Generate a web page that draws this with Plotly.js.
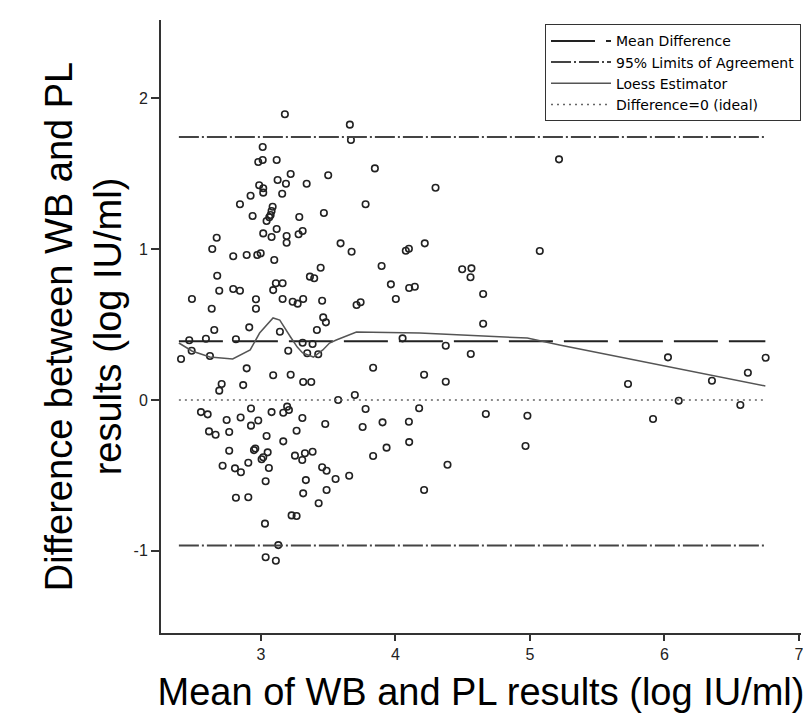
<!DOCTYPE html>
<html>
<head>
<meta charset="utf-8">
<script src="https://cdn.plot.ly/plotly-3.0.1.min.js"></script>
<style>html,body{margin:0;padding:0;background:#fff;}#chart{width:803px;height:719px;}</style>
</head>
<body>
<div id="chart"></div>
<script>
// Scatter: mean of WB and PL (x) vs difference (y), log IU/ml
const meanVals = [
 3.178,3.013,2.980,3.013,3.117,3.221,3.500,3.124,3.186,3.340,2.987,3.017,3.017,3.158,2.923,2.844,3.087,3.079,3.072,2.938,
 3.062,3.285,3.468,3.042,3.117,3.017,3.079,3.310,3.280,3.191,3.191,2.671,2.638,2.794,2.894,2.973,2.998,3.099,3.444,2.675,
 3.364,3.396,2.690,2.794,2.844,3.111,3.161,3.091,2.487,2.634,2.963,2.963,3.161,3.236,3.273,3.314,3.455,3.463,3.483,3.416,
 2.653,2.913,3.141,2.467,2.591,2.814,2.485,2.621,2.406,3.203,3.310,3.384,3.344,3.426,2.894,3.091,3.221,2.708,2.690,2.868,
 3.314,3.374,2.554,2.604,2.745,2.849,2.926,3.079,3.166,3.208,3.195,3.308,2.980,2.926,3.478,2.614,2.663,2.764,3.042,3.265,
 3.166,2.764,2.948,2.958,3.050,3.005,3.017,3.253,3.307,3.327,3.384,2.715,2.807,2.851,2.906,3.059,3.455,3.488,3.035,3.334,
 3.488,3.314,3.429,2.814,2.906,3.228,3.265,3.030,3.129,3.035,3.111,
 3.661,3.669,5.216,3.847,4.298,3.778,3.592,3.674,4.077,4.100,4.218,5.073,3.897,3.966,4.102,4.144,4.496,4.565,4.558,4.652,
 4.003,3.711,3.741,4.652,4.053,4.374,4.560,3.834,4.213,4.374,3.574,3.698,3.778,4.176,4.672,4.981,3.756,3.904,4.100,4.102,
 3.934,3.834,4.967,4.387,3.555,3.656,4.213,6.026,5.729,6.353,6.620,6.752,6.106,6.564,5.915
];
const diffVals = [
 1.895,1.678,1.578,1.592,1.592,1.499,1.490,1.459,1.434,1.434,1.424,1.404,1.375,1.368,1.355,1.298,1.282,1.253,1.227,1.220,
 1.212,1.214,1.240,1.187,1.134,1.105,1.081,1.121,1.099,1.088,1.043,1.076,1.001,0.953,0.962,0.962,0.973,0.928,0.877,0.824,
 0.818,0.807,0.725,0.736,0.725,0.774,0.774,0.729,0.670,0.605,0.668,0.605,0.670,0.652,0.639,0.670,0.658,0.548,0.515,0.464,
 0.464,0.482,0.453,0.396,0.406,0.403,0.327,0.292,0.272,0.327,0.380,0.371,0.310,0.303,0.210,0.164,0.168,0.106,0.062,0.099,
 0.119,0.119,-0.080,-0.095,-0.133,-0.116,-0.056,-0.080,-0.084,-0.066,-0.044,-0.119,-0.136,-0.170,-0.159,-0.208,-0.230,-0.212,-0.239,-0.204,
 -0.274,-0.336,-0.332,-0.322,-0.347,-0.393,-0.380,-0.369,-0.398,-0.353,-0.343,-0.436,-0.453,-0.479,-0.416,-0.451,-0.446,-0.469,-0.539,-0.531,
 -0.597,-0.619,-0.685,-0.648,-0.645,-0.765,-0.769,-0.820,-0.962,-1.043,-1.066,
 1.826,1.724,1.596,1.536,1.408,1.298,1.039,0.983,0.990,1.003,1.039,0.988,0.889,0.767,0.743,0.751,0.867,0.873,0.814,0.703,
 0.670,0.630,0.648,0.506,0.409,0.360,0.305,0.214,0.168,0.121,0.000,0.033,-0.060,-0.055,-0.093,-0.104,-0.179,-0.148,-0.144,-0.279,
 -0.316,-0.371,-0.305,-0.429,-0.524,-0.502,-0.597,0.283,0.106,0.128,0.181,0.280,-0.005,-0.033,-0.126
];

// Loess estimator curve
const loessX = [2.39,2.487,2.62,2.79,2.92,2.99,3.09,3.14,3.22,3.27,3.31,3.39,3.46,3.51,3.56,3.71,4.18,4.98,5.22,6.75];
const loessY = [0.378,0.325,0.285,0.272,0.332,0.444,0.544,0.53,0.418,0.351,0.312,0.285,0.332,0.378,0.398,0.451,0.444,0.411,0.365,0.093];

// Reference lines
const lineX = [2.39, 6.75];
const meanDiff = 0.39;
const upperLoA = 1.744;
const lowerLoA = -0.964;
const idealDiff = 0;

const xTicks = [3, 4, 5, 6, 7];
const yTicks = [-1, 0, 1, 2];

const legendNames = ['Mean Difference', '95% Limits of Agreement', 'Loess Estimator', 'Difference=0 (ideal)'];

const traces = [
  {x: meanVals, y: diffVals, type: 'scatter', mode: 'markers', showlegend: false, hoverinfo: 'x+y',
   marker: {symbol: 'circle-open', size: 6.5, color: '#222', line: {width: 1.6, color: '#222'}}},
  {x: lineX, y: [meanDiff, meanDiff], type: 'scatter', mode: 'lines', name: legendNames[0],
   line: {color: '#222', width: 2, dash: '44px,11px'}},
  {x: [lineX[0], lineX[1], null, lineX[0], lineX[1]], y: [upperLoA, upperLoA, null, lowerLoA, lowerLoA],
   type: 'scatter', mode: 'lines', name: legendNames[1], connectgaps: false,
   line: {color: '#444', width: 2, dash: '20px,3px,2px,3px'}},
  {x: loessX, y: loessY, type: 'scatter', mode: 'lines', name: legendNames[2],
   line: {color: '#555', width: 1.5}},
  {x: lineX, y: [idealDiff, idealDiff], type: 'scatter', mode: 'lines', name: legendNames[3],
   line: {color: '#666', width: 1.5, dash: '2px,4px'}}
];

const layout = {
  width: 803, height: 719,
  margin: {l: 161, r: 2, t: 20, b: 86},
  paper_bgcolor: '#fff', plot_bgcolor: '#fff',
  font: {family: 'Liberation Sans, Arial, sans-serif', color: '#000'},
  xaxis: {
    range: [2.257, 7.015], tickvals: xTicks, ticktext: xTicks.map(String),
    showgrid: false, zeroline: false, showline: true, linecolor: '#333', linewidth: 2,
    ticks: 'outside', ticklen: 6, tickwidth: 1.5, tickcolor: '#333',
    tickfont: {size: 16, color: '#222'}, ticklabeloverflow: 'allow',
    title: {text: 'Mean of WB and PL results (log IU/ml)', font: {size: 38, color: '#000'}, standoff: 16}
  },
  yaxis: {
    range: [-1.545, 2.52], tickvals: yTicks, ticktext: yTicks.map(String),
    showgrid: false, zeroline: false, showline: true, linecolor: '#333', linewidth: 2,
    ticks: 'outside', ticklen: 8, tickwidth: 1.5, tickcolor: '#333',
    tickfont: {size: 16, color: '#222'},
    title: {text: 'Difference between WB and PL<br>results (log IU/ml)', font: {size: 38, color: '#000'}, standoff: 0}
  },
  legend: {
    x: 1, xanchor: 'right', y: 0.993, yanchor: 'top',
    bgcolor: '#fff', bordercolor: '#333', borderwidth: 1,
    font: {family: 'DejaVu Sans, sans-serif', size: 14, color: '#000'},
    itemwidth: 60, tracegroupgap: 0
  },
  showlegend: true
};

Plotly.newPlot('chart', traces, layout, {displayModeBar: false, responsive: false});
</script>
</body>
</html>
